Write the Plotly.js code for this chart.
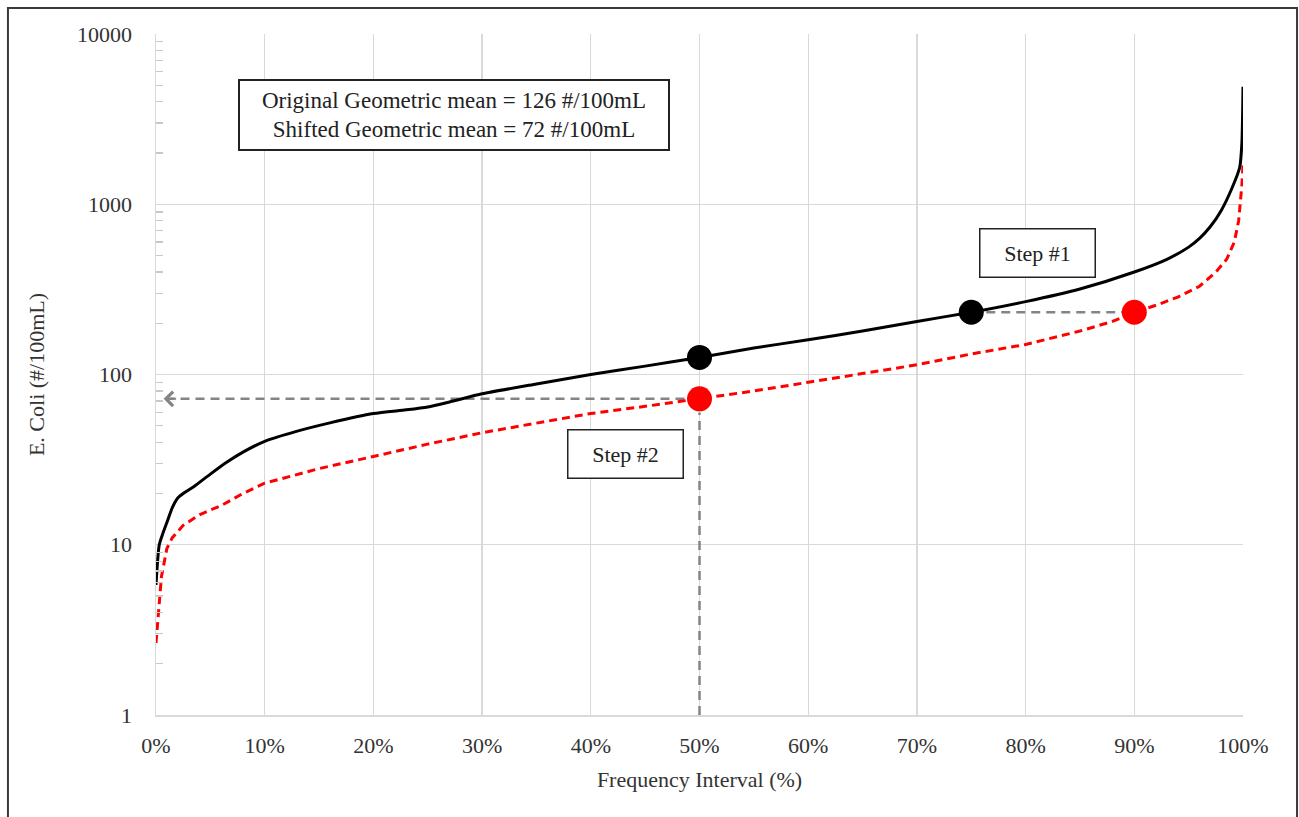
<!DOCTYPE html>
<html>
<head>
<meta charset="utf-8">
<script src="https://cdn.plot.ly/plotly-3.0.1.min.js"></script>
<style>
html,body{margin:0;padding:0;background:#fff;}
#chart{width:1299px;height:817px;}
</style>
</head>
<body>
<div id="chart"></div>
<script>
// Original distribution (frequency interval in %, E. coli #/100mL)
var origFreq = [0, 0.3, 0.7, 1.0, 1.5, 2.0, 2.5, 3.5, 5, 6.5, 8, 10, 13, 16, 20, 23, 25, 27, 30, 35, 40, 45, 50, 55, 60, 65, 70, 75, 80, 85, 90, 93, 95, 96, 97, 98, 99, 99.7, 99.9, 100];
var origVals = [5.8, 10, 12, 13.5, 16.5, 18.8, 20, 22, 26, 30.5, 35, 40.5, 46.5, 52, 59, 62, 64.5, 69, 77, 88, 100, 112, 126, 143, 160, 180, 205, 232, 268, 318, 400, 475, 560, 630, 740, 920, 1250, 1650, 2300, 4900];

// Shifted distribution
var shiftFreq = [0, 0.2, 0.5, 1.0, 1.5, 2.5, 4, 6, 8, 10, 15, 20, 25, 30, 35, 40, 45, 50, 55, 60, 65, 70, 75, 80, 85, 88, 90, 92, 94, 96, 97.5, 98.5, 99.2, 99.6, 99.9, 100];
var shiftVals = [2.65, 4, 6.5, 9.5, 11, 13, 15, 17, 20, 23, 28, 33, 39, 45.5, 52, 59, 65, 72, 80, 90, 101, 114, 132, 150, 180, 205, 232, 255, 285, 330, 400, 475, 600, 800, 1300, 1700];

// Highlighted points
var blackPtFreq = [50, 75];
var blackPtVals = [126, 232];
var redPtFreq = [50, 90];
var redPtVals = [72, 232];

// Texts
var boxText = "Original Geometric mean = 126 #/100mL<br>Shifted Geometric mean = 72 #/100mL";
var step1Text = "Step #1";
var step2Text = "Step #2";
var xTitle = "Frequency Interval (%)";
var yTitle = "E. Coli (#/100mL)";
var xTickVals = [0,10,20,30,40,50,60,70,80,90,100];
var xTickText = ["0%","10%","20%","30%","40%","50%","60%","70%","80%","90%","100%"];
var yTickVals = [1,10,100,1000,10000];
var yTickText = ["1","10","100","1000","10000"];

var FONT = "Liberation Serif, Times New Roman, serif";
var TXT = "#333";
var GRAY = "#848484";
var pct = function(a){ return a.map(function(v){ return v/100; }); };

var traces = [
  // guide: step 1 (horizontal, 75% -> 90%)
  {x: pct([blackPtFreq[1], redPtFreq[1]]), y: [blackPtVals[1], redPtVals[1]], mode:'lines',
   line:{color:GRAY, width:2.5, dash:'9px,6px'}, hoverinfo:'skip', showlegend:false},
  // guide: step 2 (horizontal to y axis)
  {x: pct([redPtFreq[0], 0.7]), y: [redPtVals[0], redPtVals[0]], mode:'lines',
   line:{color:GRAY, width:2.5, dash:'9px,6px'}, hoverinfo:'skip', showlegend:false},
  // guide: vertical from x axis to red point at 50%
  {x: pct([redPtFreq[0], redPtFreq[0]]), y: [yTickVals[0], redPtVals[0]*0.83], mode:'lines',
   line:{color:GRAY, width:2.5, dash:'9px,6px'}, hoverinfo:'skip', showlegend:false},
  {x: pct(shiftFreq), y: shiftVals, mode:'lines', name:'Shifted',
   line:{color:'#ff0000', width:3, dash:'8px,5px'}, showlegend:false},
  {x: pct(origFreq), y: origVals, mode:'lines', name:'Original',
   line:{color:'#000000', width:3, shape:'spline', smoothing:0.6}, showlegend:false},
  {x: pct(blackPtFreq), y: blackPtVals, mode:'markers',
   marker:{color:'#000000', size:25}, showlegend:false},
  {x: pct(redPtFreq), y: redPtVals, mode:'markers',
   marker:{color:'#ff0000', size:25}, showlegend:false}
];

var L10 = Math.log10;
var annotations = [
  {xref:'x', yref:'y', x:0.274, y:3.524, text:boxText, showarrow:false,
   font:{family:FONT, size:23, color:'#222'}, align:'center',
   bordercolor:'#222', borderwidth:2, bgcolor:'#fff', width:424, height:64, borderpad:2},
  {xref:'x', yref:'y', x:0.811, y:2.712, text:step1Text, showarrow:false,
   font:{family:FONT, size:22, color:'#222'}, bordercolor:'#222', borderwidth:1.5,
   bgcolor:'#fff', width:110, height:43, borderpad:2},
  {xref:'x', yref:'y', x:0.432, y:1.535, text:step2Text, showarrow:false,
   font:{family:FONT, size:22, color:'#222'}, bordercolor:'#222', borderwidth:1.5,
   bgcolor:'#fff', width:110, height:43, borderpad:2},
  // arrowheads
  {xref:'x', yref:'y', x:redPtFreq[1]/100, y:L10(redPtVals[1]), ax:-16, ay:0, text:'',
   showarrow:true, arrowhead:4, arrowsize:1.4, arrowwidth:2, arrowcolor:GRAY, standoff:13},
  {xref:'x', yref:'y', x:0.007, y:L10(redPtVals[0]), ax:14, ay:0, text:'',
   showarrow:true, arrowhead:4, arrowsize:1.4, arrowwidth:2, arrowcolor:GRAY, standoff:0},
  {xref:'x', yref:'y', x:redPtFreq[0]/100, y:L10(redPtVals[0]), ax:0, ay:16, text:'',
   showarrow:true, arrowhead:4, arrowsize:1.4, arrowwidth:2, arrowcolor:GRAY, standoff:13}
];

var layout = {
  width:1299, height:817,
  margin:{l:156, r:56, t:34, b:102},
  paper_bgcolor:'#fff', plot_bgcolor:'#fff',
  font:{family:FONT, size:22, color:TXT},
  showlegend:false,
  xaxis:{
    range:[0,1], tickvals:pct(xTickVals), ticktext:xTickText,
    showgrid:true, gridcolor:'#d9d9d9', gridwidth:1.3,
    showline:true, linecolor:'#d9d9d9', linewidth:1.5,
    zeroline:false, ticks:'outside', ticklen:10, tickcolor:'rgba(0,0,0,0)',
    tickfont:{family:FONT, size:22, color:TXT},
    title:{text:xTitle, font:{family:FONT, size:22, color:TXT}, standoff:14},
    automargin:false
  },
  yaxis:{
    type:'log', range:[0,4], tickvals:yTickVals, ticktext:yTickText,
    showgrid:true, gridcolor:'#d9d9d9', gridwidth:1.3,
    showline:true, linecolor:'#d9d9d9', linewidth:1.5,
    zeroline:false, ticks:'outside', ticklen:18, tickcolor:'rgba(0,0,0,0)',
    tickfont:{family:FONT, size:22, color:TXT},
    minor:{ticks:'inside', ticklen:7, tickcolor:'#c8c8c8', tickwidth:1.3, showgrid:false,
           tickvals:[2,3,4,5,6,7,8,9,20,30,40,50,60,70,80,90,200,300,400,500,600,700,800,900,2000,3000,4000,5000,6000,7000,8000,9000]},
    title:{text:yTitle, font:{family:FONT, size:22, color:TXT}, standoff:26},
    automargin:false
  },
  annotations:annotations,
  shapes:[
    {type:'rect', xref:'paper', yref:'paper', x0:-0.1362, x1:1.0497, y0:-0.2, y1:1.0382,
     line:{color:'#3a3a3a', width:2}, fillcolor:'rgba(0,0,0,0)', layer:'below'}
  ]
};

Plotly.newPlot('chart', traces, layout, {displayModeBar:false, staticPlot:true});
</script>
</body>
</html>
